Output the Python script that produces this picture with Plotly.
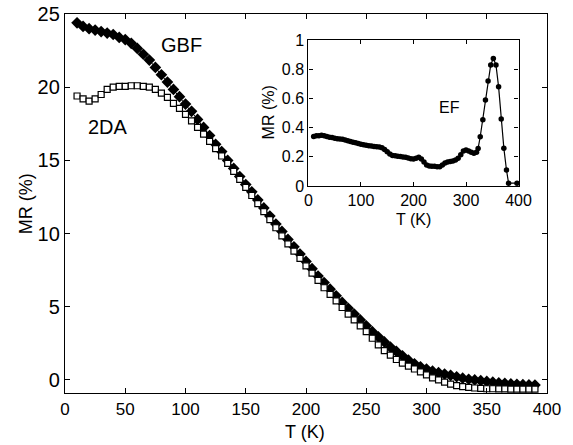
import plotly.graph_objects as go

# main panel: temperature grid (K) and MR (%) for the two fits
T_main = [10, 15, 20, 25, 30, 35, 40, 45, 50, 55, 60, 65, 70, 75, 80, 85, 90, 95,
          100, 105, 110, 115, 120, 125, 130, 135, 140, 145, 150, 155, 160, 165, 170,
          175, 180, 185, 190, 195, 200, 205, 210, 215, 220, 225, 230, 235, 240, 245,
          250, 255, 260, 265, 270, 275, 280, 285, 290, 295, 300, 305, 310, 315, 320,
          325, 330, 335, 340, 345, 350, 355, 360, 365, 370, 375, 380, 385, 390]

mr_gbf = [24.4, 24.15, 24.0, 23.9, 23.8, 23.7, 23.6, 23.4, 23.25, 23.0, 22.65, 22.25,
          21.85, 21.35, 20.85, 20.35, 19.85, 19.35, 18.85, 18.35, 17.8, 17.25, 16.7,
          16.1, 15.6, 15.0, 14.45, 13.9, 13.35, 12.85, 12.3, 11.75, 11.2, 10.65, 10.15,
          9.6, 9.1, 8.6, 8.1, 7.6, 7.1, 6.65, 6.2, 5.75, 5.3, 4.9, 4.5, 4.1, 3.7, 3.3,
          2.95, 2.6, 2.25, 1.95, 1.65, 1.35, 1.1, 0.9, 0.75, 0.6, 0.5, 0.4, 0.32, 0.22,
          0.12, 0.05, 0.0, -0.05, -0.1, -0.15, -0.2, -0.23, -0.27, -0.3, -0.32, -0.34,
          -0.35]

mr_2da = [19.4, 19.2, 19.05, 19.2, 19.5, 19.85, 20.0, 20.05, 20.05, 20.1, 20.1, 20.05,
          20.0, 19.85, 19.6, 19.3, 18.9, 18.55, 18.15, 17.7, 17.25, 16.8, 16.3, 15.8,
          15.3, 14.8, 14.25, 13.7, 13.15, 12.6, 12.05, 11.5, 10.95, 10.4, 9.85, 9.3,
          8.8, 8.3, 7.8, 7.3, 6.8, 6.3, 5.85, 5.4, 4.95, 4.5, 4.1, 3.7, 3.3, 2.85, 2.4,
          2.0, 1.7, 1.4, 1.15, 0.95, 0.75, 0.55, 0.35, 0.15, 0.0, -0.15, -0.28, -0.38,
          -0.45, -0.5, -0.55, -0.57, -0.6, -0.6, -0.61, -0.61, -0.62, -0.62, -0.62,
          -0.62, -0.62]

# inset: EF
T_ef = [10, 15, 20, 25, 30, 35, 40, 45, 50, 55, 60, 65, 70, 75, 80, 85, 90, 95, 100,
        105, 110, 115, 120, 125, 130, 135, 140, 145, 150, 155, 160, 165, 170, 175, 180,
        185, 190, 195, 200, 205, 210, 215, 220, 225, 230, 235, 240, 245, 250, 255, 260,
        265, 270, 275, 280, 285, 290, 295, 300, 305, 310, 315, 320,
        323, 327, 332, 337, 342, 347, 352, 357, 362, 367, 372, 377, 381, 397]

mr_ef = [0.34, 0.345, 0.345, 0.348, 0.345, 0.34, 0.335, 0.332, 0.328, 0.325, 0.322,
         0.32, 0.316, 0.31, 0.305, 0.3, 0.297, 0.292, 0.287, 0.283, 0.28, 0.277, 0.274,
         0.272, 0.27, 0.268, 0.262, 0.25, 0.235, 0.22, 0.21, 0.207, 0.205, 0.202, 0.2,
         0.198, 0.193, 0.188, 0.185, 0.19, 0.197, 0.185, 0.165, 0.145, 0.137, 0.135,
         0.135, 0.133, 0.132, 0.145, 0.158, 0.165, 0.168, 0.172, 0.178, 0.19, 0.215,
         0.24, 0.248, 0.24, 0.232, 0.225, 0.232,
         0.258, 0.338, 0.455, 0.59, 0.72, 0.83, 0.875, 0.83, 0.68, 0.46, 0.26, 0.11,
         0.02, 0.02]

FONT = "Liberation Sans, Arial, sans-serif"

fig = go.Figure()
fig.add_trace(go.Scatter(x=T_main, y=mr_gbf, mode="lines+markers", name="GBF",
                         line=dict(color="black", width=1),
                         marker=dict(symbol="diamond", size=9, color="black")))
fig.add_trace(go.Scatter(x=T_main, y=mr_2da, mode="lines+markers", name="2DA",
                         line=dict(color="black", width=1),
                         marker=dict(symbol="square", size=6, color="white",
                                     line=dict(color="black", width=1.2))))
fig.add_trace(go.Scatter(x=T_ef, y=mr_ef, mode="lines+markers", name="EF",
                         xaxis="x2", yaxis="y2", cliponaxis=False,
                         line=dict(color="black", width=1.2),
                         marker=dict(symbol="circle", size=5.5, color="black")))

axis_style = dict(showline=True, linecolor="black", linewidth=1.3, mirror="ticks",
                  ticks="inside", ticklen=5, tickcolor="black", showgrid=False,
                  zeroline=False, automargin=False)


def title_note(x, y, text, size, angle=0):
    return dict(x=x, y=y, xref="paper", yref="paper", text=text, showarrow=False,
                xanchor="center", yanchor="middle", textangle=angle,
                font=dict(size=size))


fig.update_layout(
    width=573, height=445,
    margin=dict(l=65, r=26, t=14, b=52),
    paper_bgcolor="white", plot_bgcolor="white",
    showlegend=False,
    font=dict(family=FONT, color="black"),
    xaxis=dict(axis_style, range=[0, 400], tickvals=[0, 50, 100, 150, 200, 250, 300, 350, 400],
               tickfont=dict(size=17)),
    yaxis=dict(axis_style, range=[-0.89, 25], tickvals=[0, 5, 10, 15, 20, 25],
               tickfont=dict(size=20)),
    xaxis2=dict(axis_style, domain=[0.505, 0.941], anchor="y2", range=[0, 400],
                tickvals=[0, 100, 200, 300, 400], ticklen=4, tickfont=dict(size=16)),
    yaxis2=dict(axis_style, domain=[0.546, 0.931], anchor="x2", range=[0, 1],
                tickvals=[0, 0.2, 0.4, 0.6, 0.8, 1], ticktext=["0", "0.2", "0.4", "0.6", "0.8", "1"],
                ticklen=4, tickfont=dict(size=16)),
    annotations=[
        title_note(0.498, -0.103, "T (K)", 18),
        title_note(-0.082, 0.499, "MR (%)", 18, -90),
        title_note(0.724, 0.459, "T (K)", 16),
        title_note(0.423, 0.740, "MR (%)", 16, -90),
        # curve labels
        dict(x=97, y=22.88, xref="x", yref="y", text="GBF", showarrow=False,
             font=dict(size=20)),
        dict(x=36, y=17.3, xref="x", yref="y", text="2DA", showarrow=False,
             font=dict(size=20)),
        dict(x=268, y=0.54, xref="x2", yref="y2", text="EF", showarrow=False,
             font=dict(size=16)),
    ],
)

# drop the browser's default 8px body margin so the figure fills the window
fig.write_html("out.html", config={"displayModeBar": False},
               post_script="document.body.style.margin = '0';")
